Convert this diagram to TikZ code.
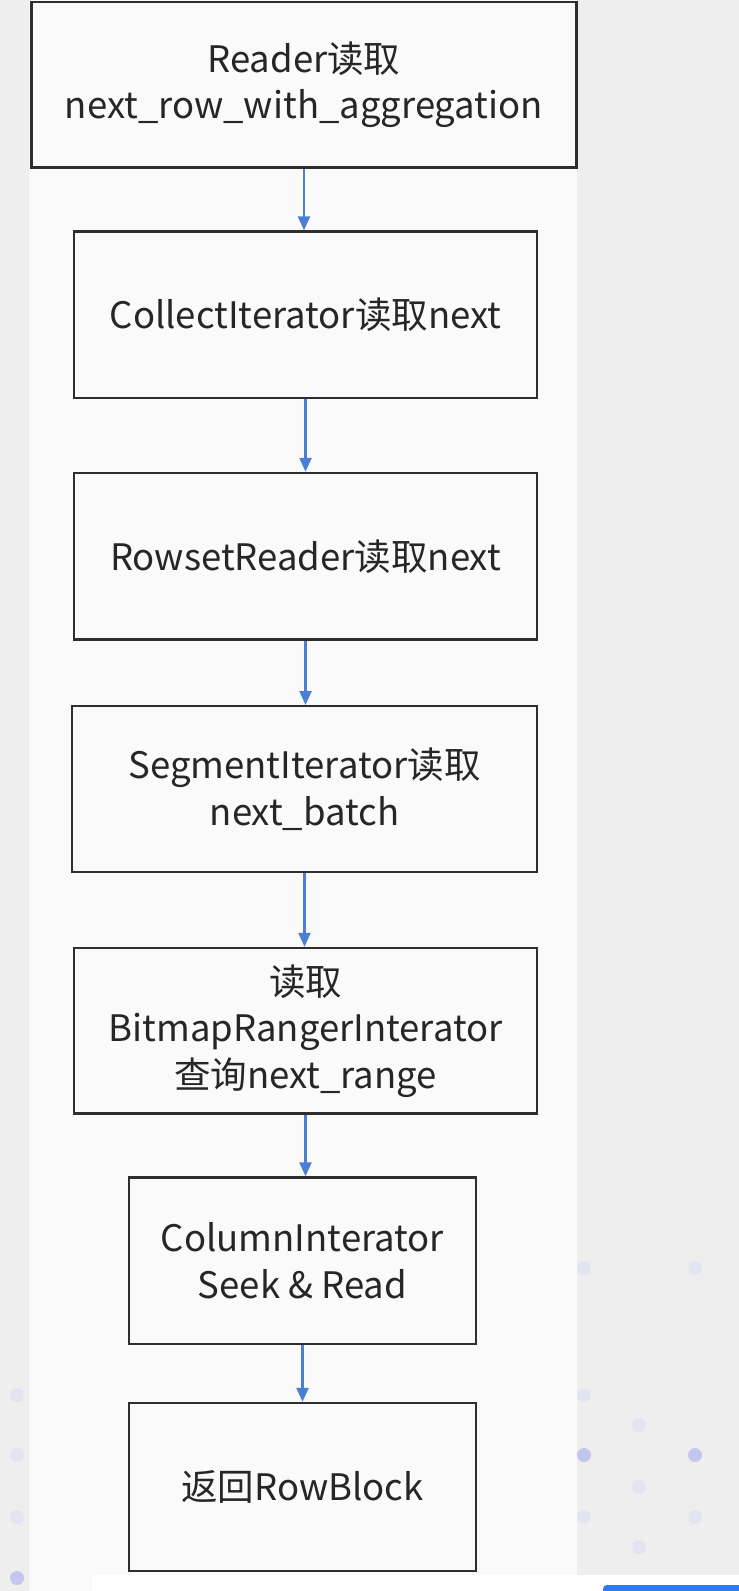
\documentclass[tikz,border=0pt]{standalone}
\usepackage{fontspec}
\setmainfont{Noto Sans CJK SC}
\usetikzlibrary{arrows.meta}
\definecolor{bggrey}{HTML}{EDEEED}
\definecolor{panel}{HTML}{FAFAFA}
\definecolor{boxline}{HTML}{2E2E2E}
\definecolor{arrowblue}{HTML}{4A7FD3}
\definecolor{dotfaint}{HTML}{E3E4F0}
\definecolor{dotstrong}{HTML}{C3C6EE}
\definecolor{barblue}{HTML}{2F7BF0}
\tikzset{
  flowbox/.style={draw=boxline, line width=2.4pt, fill=panel, inner sep=0pt,
    align=center, text=black!85, font=\fontsize{36.5}{46.5}\selectfont},
  flowarrow/.style={draw=arrowblue, line width=2.3pt,
    -{Triangle[length=14pt,width=12pt]}},
  bgdot/.style={circle, inner sep=0pt, minimum size=14pt}
}
\begin{document}
\begin{tikzpicture}[x=1pt,y=-1pt]
\useasboundingbox (0,0) rectangle (739,1591);
\fill[bggrey] (0,0) rectangle (739,1591);
% background dots
\foreach \p/\c in {{584,1268}/dotfaint,{695,1268}/dotfaint,{17,1395}/dotfaint,{584,1395}/dotfaint,
  {639,1425}/dotfaint,{17,1455}/dotfaint,{584,1455}/dotstrong,{695,1455}/dotstrong,
  {639,1487}/dotfaint,{17,1517}/dotfaint,{584,1517}/dotfaint,{695,1517}/dotfaint,
  {639,1547}/dotfaint,{17,1578}/dotstrong}
  \node[bgdot, fill=\c] at (\p) {};
\fill[panel] (29,0) rectangle (577,1591);
% bottom strip
\fill[white] (92,1575) rectangle (739,1591);
\fill[barblue, rounded corners=4pt] (603,1585) rectangle (745,1600);

\node[flowbox, minimum width=545pt, minimum height=165.5pt] (b1) at (304,84.75)
  {Reader读取\\next\_row\_with\_aggregation};
\node[flowbox, minimum width=463pt, minimum height=166.5pt] (b2) at (305.5,314.75)
  {CollectIterator读取next};
\node[flowbox, minimum width=463pt, minimum height=166.5pt] (b3) at (305.5,556.25)
  {RowsetReader读取next};
\node[flowbox, minimum width=465pt, minimum height=165.5pt] (b4) at (304.5,789)
  {SegmentIterator读取\\next\_batch};
\node[flowbox, minimum width=463pt, minimum height=165.5pt] (b5) at (305.5,1030.75)
  {读取\\BitmapRangerInterator\\查询next\_range};
\node[flowbox, minimum width=347pt, minimum height=166.5pt] (b6) at (302.5,1260.75)
  {ColumnInterator\\Seek \& Read};
\node[flowbox, minimum width=347pt, minimum height=168pt] (b7) at (302.5,1487)
  {返回RowBlock};

\draw[flowarrow] (b1.south) -- (b1.south |- b2.north);
\draw[flowarrow] (b2.south) -- (b2.south |- b3.north);
\draw[flowarrow] (b3.south) -- (b3.south |- b4.north);
\draw[flowarrow] (b4.south) -- (b4.south |- b5.north);
\draw[flowarrow] (b5.south) -- (b5.south |- b6.north);
\draw[flowarrow] (b6.south) -- (b6.south |- b7.north);
\end{tikzpicture}
\end{document}
